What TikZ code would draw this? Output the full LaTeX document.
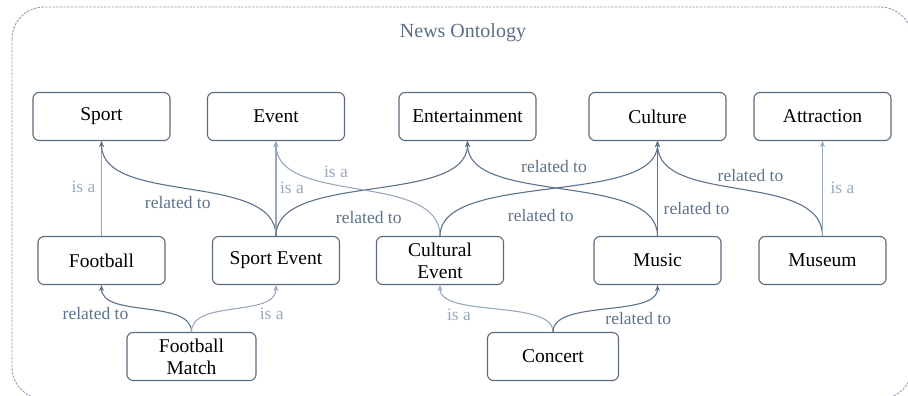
\documentclass[tikz,border=0pt]{standalone}
\usepackage{fontspec}
\setmainfont{Liberation Serif}
\usetikzlibrary{arrows.meta}

\definecolor{framecol}{HTML}{8E9EB3}
\definecolor{titlecol}{HTML}{5B6E86}
\definecolor{boxcol}{HTML}{5A6B7E}
\definecolor{relcol}{HTML}{5E738B}
\definecolor{isacol}{HTML}{98A9BF}

\begin{document}
\begin{tikzpicture}[x=1pt,y=-1pt,
  concept/.style={draw=boxcol, line width=1.1pt, rounded corners=6pt,
    minimum width=137pt, minimum height=48pt, inner sep=0pt, align=center,
    font=\fontsize{19.5}{22}\selectfont, text=black},
  narrow/.style={concept, minimum width=127pt},
  relto/.style={draw=relcol, line width=1.1pt, -{Stealth[length=6pt,width=5pt]}},
  isa/.style={draw=isacol, line width=1.1pt, -{Stealth[length=6pt,width=5pt]}},
  rellbl/.style={text=relcol, font=\fontsize{17.5}{19}\selectfont, inner sep=0pt},
  isalbl/.style={text=isacol, font=\fontsize{17.5}{19}\selectfont, inner sep=0pt}]

\useasboundingbox (0,0) rectangle (908,396);

% dashed frame around the ontology
\begin{scope}
  \clip (0,0) rectangle (908,396);
  \draw[framecol, line width=0.9pt, dash pattern=on 2.5pt off 1.2pt, rounded corners=32pt]
    (12,7) rectangle (912,399);
\end{scope}

\node[text=titlecol, font=\fontsize{20}{22}\selectfont] (title) at (463,33) {News Ontology};

% top row
\node[concept] (sport)   at (101.5,116.5) {Sport};
\node[concept] (event)   at (276,116.5)   {Event};
\node[concept] (ent)     at (467.5,116.5) {Entertainment};
\node[concept] (culture) at (657.5,116.5) {Culture};
\node[concept] (attr)    at (822.5,116.5) {Attraction};

% middle row
\node[narrow] (football) at (101.5,260.5) {Football};
\node[narrow] (spev)     at (276,260.5)   {Sport Event};
\node[narrow] (culev)    at (440,260.5)   {Cultural\\Event};
\node[narrow] (music)    at (657.5,260.5) {Music};
\node[narrow] (museum)   at (822.5,260.5) {Museum};

% bottom row
\node[narrow, minimum width=129pt] (fmatch)  at (191.5,356.5) {Football\\Match};
\node[narrow, minimum width=131pt] (concert) at (553,356.5)   {Concert};

% middle row to top row
\draw[isa] (football.north) -- (sport.south)
  node[isalbl, pos=0.5, xshift=-18pt, yshift=1.5pt] {is a};
\draw[relto] (spev.north) .. controls +(0,-65) and +(0,65) .. (sport.south)
  node[rellbl, pos=0.5, xshift=-11pt, yshift=-14.5pt] {related to};
\draw[isa] (spev.north) -- (event.south)
  node[isalbl, pos=0.5, xshift=16pt, yshift=0.5pt] {is a};
\draw[relto] (spev.north) .. controls +(0,-65) and +(0,65) .. (ent.south)
  node[rellbl, pos=0.5, xshift=-3pt, yshift=-29.5pt] {related to};
\draw[isa] (culev.north) .. controls +(0,-65) and +(0,65) .. (event.south)
  node[isalbl, pos=0.5, xshift=-22pt, yshift=16.5pt] {is a};
\draw[relto] (culev.north) .. controls +(0,-65) and +(0,65) .. (culture.south)
  node[rellbl, pos=0.5, xshift=-8pt, yshift=-27.5pt] {related to};
\draw[relto] (music.north) .. controls +(0,-65) and +(0,65) .. (ent.south)
  node[rellbl, pos=0.5, xshift=-8.5pt, yshift=21.5pt] {related to};
\draw[relto] (music.north) -- (culture.south)
  node[rellbl, pos=0.5, xshift=39pt, yshift=-20.5pt] {related to};
\draw[relto] (museum.north) .. controls +(0,-65) and +(0,65) .. (culture.south)
  node[rellbl, pos=0.5, xshift=10.5pt, yshift=12.5pt] {related to};
\draw[isa] (museum.north) -- (attr.south)
  node[isalbl, pos=0.5, xshift=20pt, yshift=0.5pt] {is a};

% bottom row to middle row
\draw[relto] (fmatch.north) .. controls +(0,-33) and +(0,33) .. (football.south)
  node[rellbl, pos=0.5, xshift=-51pt, yshift=-5.5pt] {related to};
\draw[isa] (fmatch.north) .. controls +(0,-33) and +(0,33) .. (spev.south)
  node[isalbl, pos=0.5, xshift=38pt, yshift=-5.5pt] {is a};
\draw[isa] (concert.north) .. controls +(0,-33) and +(0,33) .. (culev.south)
  node[isalbl, pos=0.5, xshift=-37.5pt, yshift=-6.5pt] {is a};
\draw[relto] (concert.north) .. controls +(0,-33) and +(0,33) .. (music.south)
  node[rellbl, pos=0.5, xshift=33pt, yshift=-10.5pt] {related to};
\end{tikzpicture}
\end{document}
